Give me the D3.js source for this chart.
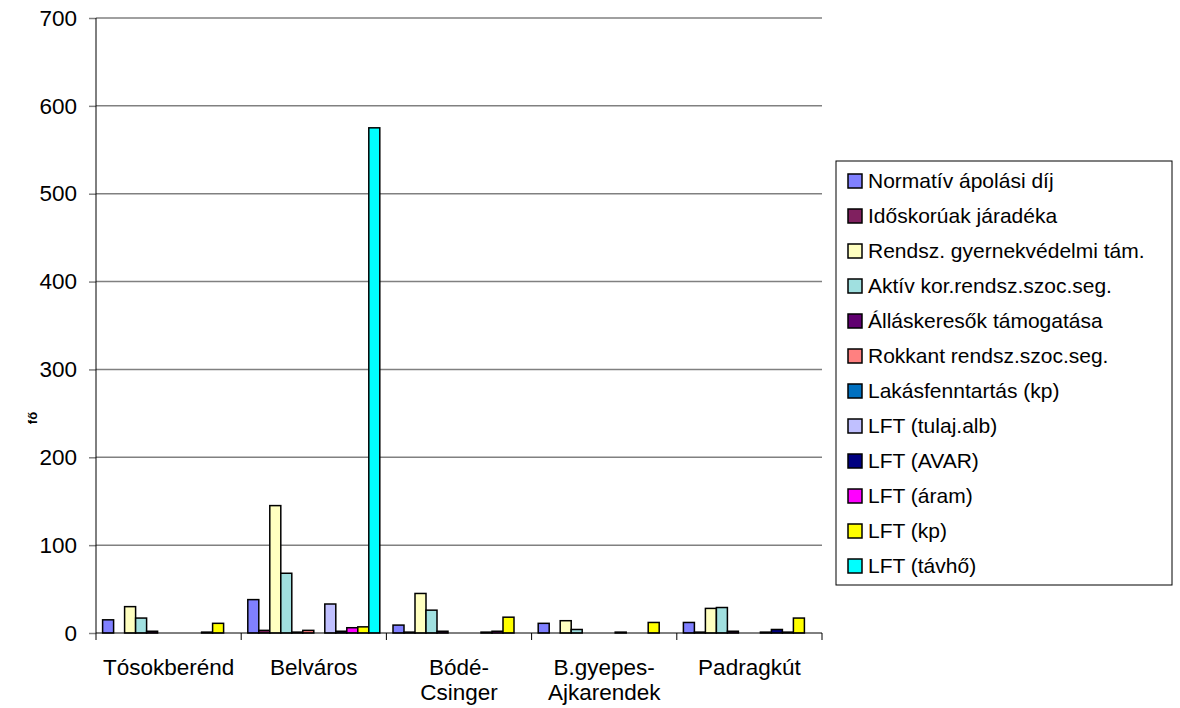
<!DOCTYPE html>
<html>
<head>
<meta charset="utf-8">
<script src="https://cdn.jsdelivr.net/npm/d3@7"></script>
<style>
  body { margin: 0; background: #fff; }
  text { font-family: "Liberation Sans", Arial, sans-serif; fill: #000; }
</style>
</head>
<body>
<script>
// categories (x axis), each label may wrap on two lines
var categories = ["Tósokberénd", "Belváros", "Bódé-Csinger", "B.gyepes-Ajkarendek", "Padragkút"];
var categoryLines = [["Tósokberénd"], ["Belváros"], ["Bódé-", "Csinger"], ["B.gyepes-", "Ajkarendek"], ["Padragkút"]];

var seriesNames = [
  "Normatív ápolási díj",
  "Időskorúak járadéka",
  "Rendsz. gyernekvédelmi tám.",
  "Aktív kor.rendsz.szoc.seg.",
  "Álláskeresők támogatása",
  "Rokkant rendsz.szoc.seg.",
  "Lakásfenntartás (kp)",
  "LFT (tulaj.alb)",
  "LFT (AVAR)",
  "LFT (áram)",
  "LFT (kp)",
  "LFT (távhő)"
];
var seriesColors = ["#8080ff", "#80205f", "#ffffc0", "#a0e0e0", "#600070", "#ff8080",
                    "#0070c0", "#c0c0ff", "#000080", "#ff00ff", "#ffff00", "#00ffff"];

// values per series, in category order
var normativ     = [15, 38, 9, 11, 12];
var idoskoruak   = [0, 3, 1, 0, 1];
var gyermekved   = [30, 145, 45, 14, 28];
var aktivkor     = [17, 68, 26, 4, 29];
var allaskeresok = [2, 1, 2, 0, 2];
var rokkant      = [0, 3, 0, 0, 0];
var lakasfenn    = [0, 0, 0, 0, 0];
var lftTulaj     = [0, 33, 0, 1, 1];
var lftAvar      = [0, 2, 1, 0, 4];
var lftAram      = [1, 6, 2, 0, 1];
var lftKp        = [11, 7, 18, 12, 17];
var lftTavho     = [0, 575, 0, 0, 0];
var seriesValues = [normativ, idoskoruak, gyermekved, aktivkor, allaskeresok, rokkant,
                    lakasfenn, lftTulaj, lftAvar, lftAram, lftKp, lftTavho];

var yTicks = [0, 100, 200, 300, 400, 500, 600, 700];
var yLabel = "fő";

var width = 1180, height = 708;
var plot = {left: 96, right: 822, top: 18, bottom: 633};

var svg = d3.select("body").append("svg")
  .attr("width", width).attr("height", height);

var x0 = d3.scaleBand()
  .domain(categories)
  .range([plot.left, plot.right])
  .padding(0);

var x1 = d3.scaleBand()
  .domain(d3.range(seriesNames.length))
  .range([0, x0.bandwidth()])
  .paddingInner(0)
  .paddingOuter(0.6);

var y = d3.scaleLinear()
  .domain([0, 700])
  .range([plot.bottom, plot.top]);

// gridlines
svg.append("g").attr("class", "grid")
  .selectAll("line")
  .data(yTicks.filter(function(d){ return d > 0; }))
  .enter().append("line")
    .attr("x1", plot.left).attr("x2", plot.right)
    .attr("y1", function(d){ return y(d); })
    .attr("y2", function(d){ return y(d); })
    .style("stroke", "#808080")
    .style("stroke-width", 1.5);

// bars
var rows = [];
seriesValues.forEach(function(vals, s){
  vals.forEach(function(v, c){
    rows.push({series: s, cat: categories[c], value: v});
  });
});

svg.append("g").attr("class", "bars")
  .selectAll("rect")
  .data(rows.filter(function(d){ return d.value > 0; }))
  .enter().append("rect")
    .attr("x", function(d){ return x0(d.cat) + x1(d.series); })
    .attr("width", x1.bandwidth())
    .attr("y", function(d){ return y(d.value); })
    .attr("height", function(d){ return y(0) - y(d.value); })
    .style("fill", function(d){ return seriesColors[d.series]; })
    .style("stroke", "#000")
    .style("stroke-width", 1.5);

// y axis
var yaxis = d3.axisLeft(y).tickValues(yTicks).tickSize(7).tickPadding(12);
var gy = svg.append("g")
  .attr("transform", "translate(" + plot.left + ",0)")
  .call(yaxis);
gy.select(".domain").remove();
gy.append("line")
  .attr("x1", 0).attr("x2", 0)
  .attr("y1", plot.top).attr("y2", plot.bottom)
  .style("stroke", "#000");
gy.selectAll(".tick line").style("stroke", "#808080").style("stroke-width", 1.5);
gy.selectAll(".tick text")
  .style("font-size", "22.5px")
  .style("font-family", "Liberation Sans, Arial, sans-serif");

// x axis
var gx = svg.append("g")
  .attr("transform", "translate(0," + plot.bottom + ")");
gx.append("line")
  .attr("x1", plot.left).attr("x2", plot.right)
  .attr("y1", 0).attr("y2", 0)
  .style("stroke", "#000");
gx.selectAll(".xtick")
  .data(categories.concat(["end"]))
  .enter().append("line")
    .attr("class", "xtick")
    .attr("x1", function(d, i){ return plot.left + i * x0.step(); })
    .attr("x2", function(d, i){ return plot.left + i * x0.step(); })
    .attr("y1", 0).attr("y2", 7)
    .style("stroke", "#000");

var xlab = gx.selectAll(".xlab")
  .data(categories)
  .enter().append("text")
    .attr("class", "xlab")
    .attr("text-anchor", "middle")
    .attr("x", function(d){ return x0(d) + x0.bandwidth() / 2; })
    .attr("y", 42)
    .style("font-size", "22.5px");
xlab.each(function(d, i){
  var t = d3.select(this);
  categoryLines[i].forEach(function(line, j){
    t.append("tspan")
      .attr("x", x0(d) + x0.bandwidth() / 2)
      .attr("dy", j === 0 ? 0 : 25)
      .text(line);
  });
});

// y label
svg.append("text")
  .attr("transform", "translate(37,418) rotate(-90)")
  .attr("text-anchor", "middle")
  .style("font-size", "13px")
  .style("font-weight", "bold")
  .text(yLabel);

// legend
var legend = svg.append("g").attr("class", "legend")
  .attr("transform", "translate(836,161)");
legend.append("rect")
  .attr("x", 0).attr("y", 0)
  .attr("width", 336).attr("height", 424)
  .style("fill", "#fff")
  .style("stroke", "#000");

var items = legend.selectAll(".item")
  .data(seriesNames)
  .enter().append("g")
    .attr("class", "item")
    .attr("transform", function(d, i){ return "translate(12," + (20 + i * 35) + ")"; });
items.append("rect")
  .attr("x", 0).attr("y", -7)
  .attr("width", 14).attr("height", 14)
  .style("fill", function(d, i){ return seriesColors[i]; })
  .style("stroke", "#000")
  .style("stroke-width", 1.5);
items.append("text")
  .attr("x", 20).attr("y", 0)
  .attr("dy", "0.35em")
  .style("font-size", "21px")
  .text(function(d){ return d; });
</script>
</body>
</html>
